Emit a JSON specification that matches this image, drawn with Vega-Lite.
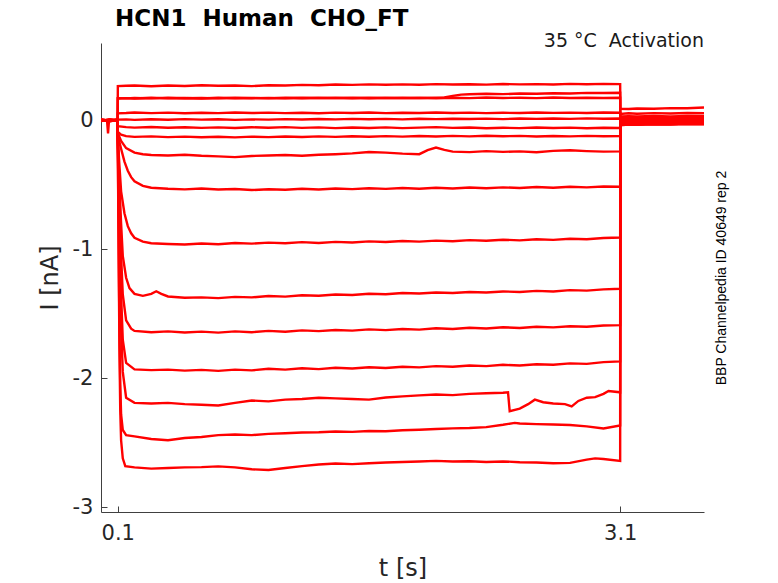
{
  "$schema": "https://vega.github.io/schema/vega-lite/v6.json",
  "width": 603,
  "height": 469,
  "autosize": {"type": "none"},
  "padding": {"left": 101, "top": 43, "right": 74, "bottom": 71},
  "background": "white",
  "title": {
    "text": "HCN1\u00a0 Human\u00a0 CHO_FT",
    "anchor": "start",
    "frame": "group",
    "dx": 14,
    "offset": -17,
    "baseline": "alphabetic",
    "font": "DejaVu Sans",
    "fontSize": 23,
    "fontWeight": "bold",
    "color": "#000000"
  },
  "config": {
    "view": {"stroke": null},
    "axis": {
      "zindex": 1,
      "ticks": false,
      "grid": true,
      "gridColor": "#404040",
      "gridWidth": 1,
      "gridOpacity": 1,
      "domainColor": "#404040",
      "domainWidth": 1,
      "labelColor": "#262626",
      "titleColor": "#262626",
      "labelFont": "DejaVu Sans",
      "titleFont": "DejaVu Sans",
      "labelFontSize": 21,
      "titleFontSize": 24,
      "titleFontWeight": "normal"
    }
  },
  "layer": [
    {
      "data": {
        "values": [
          {"k":1,"t":0,"i":0.004},{"k":1,"t":0.05,"i":-0.006},{"k":1,"t":0.0995,"i":0.003},{"k":1,"t":0.1005,"i":0.266},{"k":1,"t":0.15,"i":0.268},{"k":1,"t":0.2,"i":0.271},{"k":1,"t":0.3,"i":0.265},{"k":1,"t":0.4,"i":0.27},{"k":1,"t":0.5,"i":0.267},{"k":1,"t":0.6,"i":0.272},{"k":1,"t":0.7,"i":0.268},{"k":1,"t":0.8,"i":0.271},{"k":1,"t":0.9,"i":0.266},{"k":1,"t":1.0,"i":0.272},{"k":1,"t":1.1,"i":0.27},{"k":1,"t":1.2,"i":0.275},{"k":1,"t":1.3,"i":0.273},{"k":1,"t":1.4,"i":0.278},{"k":1,"t":1.5,"i":0.275},{"k":1,"t":1.6,"i":0.279},{"k":1,"t":1.7,"i":0.276},{"k":1,"t":1.8,"i":0.279},{"k":1,"t":1.9,"i":0.276},{"k":1,"t":2.0,"i":0.281},{"k":1,"t":2.1,"i":0.278},{"k":1,"t":2.2,"i":0.28},{"k":1,"t":2.3,"i":0.277},{"k":1,"t":2.4,"i":0.282},{"k":1,"t":2.5,"i":0.279},{"k":1,"t":2.6,"i":0.281},{"k":1,"t":2.7,"i":0.278},{"k":1,"t":2.8,"i":0.283},{"k":1,"t":2.9,"i":0.28},{"k":1,"t":3.0,"i":0.283},{"k":1,"t":3.0995,"i":0.281},{"k":1,"t":3.1005,"i":0.09},{"k":1,"t":3.15,"i":0.088},{"k":1,"t":3.2,"i":0.092},{"k":1,"t":3.3,"i":0.09},{"k":1,"t":3.4,"i":0.095},{"k":1,"t":3.5,"i":0.094},{"k":1,"t":3.6,"i":0.1},

          {"k":2,"t":0,"i":-0.003},{"k":2,"t":0.05,"i":0.005},{"k":2,"t":0.0995,"i":-0.002},{"k":2,"t":0.1005,"i":0.17},{"k":2,"t":0.15,"i":0.173},{"k":2,"t":0.2,"i":0.17},{"k":2,"t":0.3,"i":0.175},{"k":2,"t":0.4,"i":0.171},{"k":2,"t":0.5,"i":0.174},{"k":2,"t":0.6,"i":0.17},{"k":2,"t":0.7,"i":0.175},{"k":2,"t":0.8,"i":0.172},{"k":2,"t":0.9,"i":0.174},{"k":2,"t":1.0,"i":0.171},{"k":2,"t":1.1,"i":0.175},{"k":2,"t":1.2,"i":0.172},{"k":2,"t":1.3,"i":0.176},{"k":2,"t":1.4,"i":0.173},{"k":2,"t":1.5,"i":0.175},{"k":2,"t":1.6,"i":0.172},{"k":2,"t":1.7,"i":0.176},{"k":2,"t":1.8,"i":0.173},{"k":2,"t":1.9,"i":0.175},{"k":2,"t":2.0,"i":0.172},{"k":2,"t":2.1,"i":0.176},{"k":2,"t":2.2,"i":0.173},{"k":2,"t":2.3,"i":0.177},{"k":2,"t":2.4,"i":0.174},{"k":2,"t":2.5,"i":0.176},{"k":2,"t":2.6,"i":0.173},{"k":2,"t":2.7,"i":0.177},{"k":2,"t":2.8,"i":0.174},{"k":2,"t":2.9,"i":0.176},{"k":2,"t":3.0,"i":0.174},{"k":2,"t":3.0995,"i":0.176},{"k":2,"t":3.1005,"i":0.05},{"k":2,"t":3.15,"i":0.055},{"k":2,"t":3.2,"i":0.052},{"k":2,"t":3.3,"i":0.056},{"k":2,"t":3.4,"i":0.053},{"k":2,"t":3.5,"i":0.057},{"k":2,"t":3.6,"i":0.055},

          {"k":3,"t":0,"i":0.002},{"k":3,"t":0.05,"i":-0.004},{"k":3,"t":0.0995,"i":0.006},{"k":3,"t":0.1005,"i":0.172},{"k":3,"t":0.15,"i":0.171},{"k":3,"t":0.2,"i":0.174},{"k":3,"t":0.3,"i":0.171},{"k":3,"t":0.4,"i":0.175},{"k":3,"t":0.5,"i":0.172},{"k":3,"t":0.6,"i":0.174},{"k":3,"t":0.7,"i":0.171},{"k":3,"t":0.8,"i":0.175},{"k":3,"t":0.9,"i":0.172},{"k":3,"t":1.0,"i":0.174},{"k":3,"t":1.1,"i":0.172},{"k":3,"t":1.2,"i":0.176},{"k":3,"t":1.3,"i":0.173},{"k":3,"t":1.4,"i":0.175},{"k":3,"t":1.5,"i":0.172},{"k":3,"t":1.6,"i":0.176},{"k":3,"t":1.7,"i":0.173},{"k":3,"t":1.8,"i":0.175},{"k":3,"t":1.9,"i":0.173},{"k":3,"t":2.0,"i":0.176},{"k":3,"t":2.05,"i":0.178},{"k":3,"t":2.1,"i":0.19},{"k":3,"t":2.15,"i":0.2},{"k":3,"t":2.2,"i":0.203},{"k":3,"t":2.3,"i":0.206},{"k":3,"t":2.4,"i":0.204},{"k":3,"t":2.5,"i":0.208},{"k":3,"t":2.6,"i":0.207},{"k":3,"t":2.7,"i":0.211},{"k":3,"t":2.8,"i":0.209},{"k":3,"t":2.9,"i":0.213},{"k":3,"t":3.0,"i":0.212},{"k":3,"t":3.0995,"i":0.214},{"k":3,"t":3.1005,"i":0.03},{"k":3,"t":3.15,"i":0.033},{"k":3,"t":3.2,"i":0.03},{"k":3,"t":3.3,"i":0.034},{"k":3,"t":3.4,"i":0.031},{"k":3,"t":3.5,"i":0.035},{"k":3,"t":3.6,"i":0.033},

          {"k":4,"t":0,"i":0.008},{"k":4,"t":0.05,"i":0.0},{"k":4,"t":0.0995,"i":-0.005},{"k":4,"t":0.1005,"i":0.055},{"k":4,"t":0.15,"i":0.057},{"k":4,"t":0.2,"i":0.061},{"k":4,"t":0.3,"i":0.056},{"k":4,"t":0.4,"i":0.06},{"k":4,"t":0.5,"i":0.055},{"k":4,"t":0.6,"i":0.059},{"k":4,"t":0.7,"i":0.056},{"k":4,"t":0.8,"i":0.061},{"k":4,"t":0.9,"i":0.057},{"k":4,"t":1.0,"i":0.06},{"k":4,"t":1.1,"i":0.056},{"k":4,"t":1.2,"i":0.059},{"k":4,"t":1.3,"i":0.055},{"k":4,"t":1.4,"i":0.06},{"k":4,"t":1.5,"i":0.057},{"k":4,"t":1.6,"i":0.061},{"k":4,"t":1.7,"i":0.056},{"k":4,"t":1.8,"i":0.059},{"k":4,"t":1.9,"i":0.057},{"k":4,"t":2.0,"i":0.061},{"k":4,"t":2.1,"i":0.057},{"k":4,"t":2.2,"i":0.06},{"k":4,"t":2.3,"i":0.056},{"k":4,"t":2.4,"i":0.059},{"k":4,"t":2.5,"i":0.057},{"k":4,"t":2.6,"i":0.061},{"k":4,"t":2.7,"i":0.058},{"k":4,"t":2.8,"i":0.06},{"k":4,"t":2.9,"i":0.057},{"k":4,"t":3.0,"i":0.061},{"k":4,"t":3.0995,"i":0.059},{"k":4,"t":3.1005,"i":0.02},{"k":4,"t":3.15,"i":0.022},{"k":4,"t":3.2,"i":0.018},{"k":4,"t":3.3,"i":0.023},{"k":4,"t":3.4,"i":0.02},{"k":4,"t":3.5,"i":0.024},{"k":4,"t":3.6,"i":0.021},

          {"k":5,"t":0,"i":-0.006},{"k":5,"t":0.05,"i":0.007},{"k":5,"t":0.0995,"i":0.001},{"k":5,"t":0.1005,"i":0.006},{"k":5,"t":0.15,"i":0.008},{"k":5,"t":0.2,"i":0.004},{"k":5,"t":0.3,"i":0.009},{"k":5,"t":0.4,"i":0.005},{"k":5,"t":0.5,"i":0.01},{"k":5,"t":0.6,"i":0.006},{"k":5,"t":0.7,"i":0.009},{"k":5,"t":0.8,"i":0.004},{"k":5,"t":0.9,"i":0.008},{"k":5,"t":1.0,"i":0.006},{"k":5,"t":1.1,"i":0.01},{"k":5,"t":1.2,"i":0.007},{"k":5,"t":1.3,"i":0.011},{"k":5,"t":1.4,"i":0.008},{"k":5,"t":1.5,"i":0.012},{"k":5,"t":1.6,"i":0.009},{"k":5,"t":1.7,"i":0.012},{"k":5,"t":1.8,"i":0.008},{"k":5,"t":1.9,"i":0.013},{"k":5,"t":2.0,"i":0.01},{"k":5,"t":2.1,"i":0.013},{"k":5,"t":2.2,"i":0.011},{"k":5,"t":2.3,"i":0.014},{"k":5,"t":2.4,"i":0.01},{"k":5,"t":2.5,"i":0.015},{"k":5,"t":2.6,"i":0.012},{"k":5,"t":2.7,"i":0.015},{"k":5,"t":2.8,"i":0.012},{"k":5,"t":2.9,"i":0.016},{"k":5,"t":3.0,"i":0.013},{"k":5,"t":3.0995,"i":0.015},{"k":5,"t":3.1005,"i":0.01},{"k":5,"t":3.15,"i":0.012},{"k":5,"t":3.2,"i":0.008},{"k":5,"t":3.3,"i":0.013},{"k":5,"t":3.4,"i":0.009},{"k":5,"t":3.5,"i":0.014},{"k":5,"t":3.6,"i":0.011},

          {"k":6,"t":0,"i":0.005},{"k":6,"t":0.05,"i":-0.003},{"k":6,"t":0.0995,"i":0.004},{"k":6,"t":0.1005,"i":-0.045},{"k":6,"t":0.15,"i":-0.052},{"k":6,"t":0.2,"i":-0.056},{"k":6,"t":0.3,"i":-0.051},{"k":6,"t":0.4,"i":-0.057},{"k":6,"t":0.5,"i":-0.053},{"k":6,"t":0.6,"i":-0.058},{"k":6,"t":0.7,"i":-0.054},{"k":6,"t":0.8,"i":-0.059},{"k":6,"t":0.9,"i":-0.053},{"k":6,"t":1.0,"i":-0.057},{"k":6,"t":1.1,"i":-0.052},{"k":6,"t":1.2,"i":-0.058},{"k":6,"t":1.3,"i":-0.054},{"k":6,"t":1.4,"i":-0.06},{"k":6,"t":1.5,"i":-0.055},{"k":6,"t":1.6,"i":-0.059},{"k":6,"t":1.7,"i":-0.054},{"k":6,"t":1.8,"i":-0.06},{"k":6,"t":1.9,"i":-0.056},{"k":6,"t":2.0,"i":-0.052},{"k":6,"t":2.1,"i":-0.058},{"k":6,"t":2.2,"i":-0.055},{"k":6,"t":2.3,"i":-0.061},{"k":6,"t":2.4,"i":-0.057},{"k":6,"t":2.5,"i":-0.06},{"k":6,"t":2.6,"i":-0.055},{"k":6,"t":2.7,"i":-0.059},{"k":6,"t":2.8,"i":-0.056},{"k":6,"t":2.9,"i":-0.061},{"k":6,"t":3.0,"i":-0.057},{"k":6,"t":3.0995,"i":-0.059},{"k":6,"t":3.1005,"i":0.003},{"k":6,"t":3.15,"i":0.005},{"k":6,"t":3.2,"i":0.001},{"k":6,"t":3.3,"i":0.006},{"k":6,"t":3.4,"i":0.002},{"k":6,"t":3.5,"i":0.007},{"k":6,"t":3.6,"i":0.004},

          {"k":7,"t":0,"i":-0.004},{"k":7,"t":0.05,"i":0.006},{"k":7,"t":0.0995,"i":-0.003},{"k":7,"t":0.1005,"i":-0.09},{"k":7,"t":0.12,"i":-0.11},{"k":7,"t":0.15,"i":-0.122},{"k":7,"t":0.2,"i":-0.128},{"k":7,"t":0.3,"i":-0.124},{"k":7,"t":0.4,"i":-0.13},{"k":7,"t":0.5,"i":-0.126},{"k":7,"t":0.6,"i":-0.131},{"k":7,"t":0.7,"i":-0.127},{"k":7,"t":0.8,"i":-0.132},{"k":7,"t":0.9,"i":-0.126},{"k":7,"t":1.0,"i":-0.13},{"k":7,"t":1.1,"i":-0.125},{"k":7,"t":1.2,"i":-0.129},{"k":7,"t":1.3,"i":-0.124},{"k":7,"t":1.4,"i":-0.128},{"k":7,"t":1.5,"i":-0.123},{"k":7,"t":1.6,"i":-0.127},{"k":7,"t":1.7,"i":-0.122},{"k":7,"t":1.8,"i":-0.126},{"k":7,"t":1.9,"i":-0.121},{"k":7,"t":2.0,"i":-0.125},{"k":7,"t":2.1,"i":-0.12},{"k":7,"t":2.2,"i":-0.124},{"k":7,"t":2.3,"i":-0.119},{"k":7,"t":2.4,"i":-0.123},{"k":7,"t":2.5,"i":-0.12},{"k":7,"t":2.6,"i":-0.125},{"k":7,"t":2.7,"i":-0.121},{"k":7,"t":2.8,"i":-0.124},{"k":7,"t":2.9,"i":-0.12},{"k":7,"t":3.0,"i":-0.123},{"k":7,"t":3.0995,"i":-0.121},{"k":7,"t":3.1005,"i":-0.005},{"k":7,"t":3.15,"i":-0.002},{"k":7,"t":3.2,"i":-0.006},{"k":7,"t":3.3,"i":-0.001},{"k":7,"t":3.4,"i":-0.005},{"k":7,"t":3.5,"i":0.0},{"k":7,"t":3.6,"i":-0.003},

          {"k":8,"t":0,"i":0.003},{"k":8,"t":0.05,"i":-0.005},{"k":8,"t":0.0995,"i":0.002},{"k":8,"t":0.1005,"i":-0.1},{"k":8,"t":0.12,"i":-0.16},{"k":8,"t":0.15,"i":-0.215},{"k":8,"t":0.2,"i":-0.25},{"k":8,"t":0.25,"i":-0.262},{"k":8,"t":0.3,"i":-0.268},{"k":8,"t":0.4,"i":-0.272},{"k":8,"t":0.5,"i":-0.266},{"k":8,"t":0.6,"i":-0.274},{"k":8,"t":0.7,"i":-0.279},{"k":8,"t":0.8,"i":-0.285},{"k":8,"t":0.9,"i":-0.276},{"k":8,"t":1.0,"i":-0.272},{"k":8,"t":1.1,"i":-0.268},{"k":8,"t":1.2,"i":-0.274},{"k":8,"t":1.3,"i":-0.266},{"k":8,"t":1.4,"i":-0.262},{"k":8,"t":1.5,"i":-0.256},{"k":8,"t":1.6,"i":-0.245},{"k":8,"t":1.7,"i":-0.25},{"k":8,"t":1.8,"i":-0.258},{"k":8,"t":1.9,"i":-0.262},{"k":8,"t":1.95,"i":-0.23},{"k":8,"t":2.0,"i":-0.21},{"k":8,"t":2.05,"i":-0.228},{"k":8,"t":2.1,"i":-0.242},{"k":8,"t":2.2,"i":-0.246},{"k":8,"t":2.3,"i":-0.238},{"k":8,"t":2.4,"i":-0.244},{"k":8,"t":2.5,"i":-0.24},{"k":8,"t":2.6,"i":-0.247},{"k":8,"t":2.7,"i":-0.236},{"k":8,"t":2.8,"i":-0.232},{"k":8,"t":2.9,"i":-0.238},{"k":8,"t":3.0,"i":-0.242},{"k":8,"t":3.0995,"i":-0.24},{"k":8,"t":3.1005,"i":-0.01},{"k":8,"t":3.15,"i":-0.008},{"k":8,"t":3.2,"i":-0.012},{"k":8,"t":3.3,"i":-0.006},{"k":8,"t":3.4,"i":-0.01},{"k":8,"t":3.5,"i":-0.005},{"k":8,"t":3.6,"i":-0.008},

          {"k":9,"t":0,"i":-0.002},{"k":9,"t":0.036,"i":0.0},{"k":9,"t":0.042,"i":-0.1},{"k":9,"t":0.048,"i":0.002},{"k":9,"t":0.0995,"i":0.004},{"k":9,"t":0.1005,"i":-0.12},{"k":9,"t":0.12,"i":-0.22},{"k":9,"t":0.14,"i":-0.32},{"k":9,"t":0.16,"i":-0.39},{"k":9,"t":0.18,"i":-0.44},{"k":9,"t":0.2,"i":-0.472},{"k":9,"t":0.25,"i":-0.508},{"k":9,"t":0.3,"i":-0.522},{"k":9,"t":0.4,"i":-0.53},{"k":9,"t":0.5,"i":-0.535},{"k":9,"t":0.6,"i":-0.528},{"k":9,"t":0.7,"i":-0.536},{"k":9,"t":0.8,"i":-0.532},{"k":9,"t":0.9,"i":-0.54},{"k":9,"t":1.0,"i":-0.534},{"k":9,"t":1.1,"i":-0.538},{"k":9,"t":1.2,"i":-0.53},{"k":9,"t":1.3,"i":-0.536},{"k":9,"t":1.4,"i":-0.528},{"k":9,"t":1.5,"i":-0.533},{"k":9,"t":1.6,"i":-0.526},{"k":9,"t":1.7,"i":-0.531},{"k":9,"t":1.8,"i":-0.524},{"k":9,"t":1.9,"i":-0.53},{"k":9,"t":2.0,"i":-0.522},{"k":9,"t":2.1,"i":-0.528},{"k":9,"t":2.2,"i":-0.52},{"k":9,"t":2.3,"i":-0.526},{"k":9,"t":2.4,"i":-0.519},{"k":9,"t":2.5,"i":-0.524},{"k":9,"t":2.6,"i":-0.516},{"k":9,"t":2.7,"i":-0.522},{"k":9,"t":2.8,"i":-0.514},{"k":9,"t":2.9,"i":-0.519},{"k":9,"t":3.0,"i":-0.512},{"k":9,"t":3.0995,"i":-0.515},{"k":9,"t":3.1005,"i":-0.015},{"k":9,"t":3.15,"i":-0.012},{"k":9,"t":3.2,"i":-0.016},{"k":9,"t":3.3,"i":-0.01},{"k":9,"t":3.4,"i":-0.014},{"k":9,"t":3.5,"i":-0.009},{"k":9,"t":3.6,"i":-0.012},

          {"k":10,"t":0,"i":0.006},{"k":10,"t":0.05,"i":-0.002},{"k":10,"t":0.0995,"i":0.005},{"k":10,"t":0.1005,"i":-0.14},{"k":10,"t":0.11,"i":-0.35},{"k":10,"t":0.12,"i":-0.55},{"k":10,"t":0.14,"i":-0.72},{"k":10,"t":0.16,"i":-0.82},{"k":10,"t":0.18,"i":-0.875},{"k":10,"t":0.2,"i":-0.91},{"k":10,"t":0.25,"i":-0.94},{"k":10,"t":0.3,"i":-0.952},{"k":10,"t":0.4,"i":-0.958},{"k":10,"t":0.5,"i":-0.962},{"k":10,"t":0.6,"i":-0.955},{"k":10,"t":0.7,"i":-0.96},{"k":10,"t":0.8,"i":-0.95},{"k":10,"t":0.9,"i":-0.955},{"k":10,"t":1.0,"i":-0.948},{"k":10,"t":1.1,"i":-0.952},{"k":10,"t":1.2,"i":-0.944},{"k":10,"t":1.3,"i":-0.95},{"k":10,"t":1.4,"i":-0.942},{"k":10,"t":1.5,"i":-0.947},{"k":10,"t":1.6,"i":-0.938},{"k":10,"t":1.7,"i":-0.943},{"k":10,"t":1.8,"i":-0.935},{"k":10,"t":1.9,"i":-0.94},{"k":10,"t":2.0,"i":-0.932},{"k":10,"t":2.1,"i":-0.937},{"k":10,"t":2.2,"i":-0.928},{"k":10,"t":2.3,"i":-0.933},{"k":10,"t":2.4,"i":-0.925},{"k":10,"t":2.5,"i":-0.93},{"k":10,"t":2.6,"i":-0.921},{"k":10,"t":2.7,"i":-0.926},{"k":10,"t":2.8,"i":-0.918},{"k":10,"t":2.9,"i":-0.922},{"k":10,"t":3.0,"i":-0.912},{"k":10,"t":3.0995,"i":-0.908},{"k":10,"t":3.1005,"i":-0.02},{"k":10,"t":3.15,"i":-0.016},{"k":10,"t":3.2,"i":-0.02},{"k":10,"t":3.3,"i":-0.014},{"k":10,"t":3.4,"i":-0.018},{"k":10,"t":3.5,"i":-0.012},{"k":10,"t":3.6,"i":-0.015},

          {"k":11,"t":0,"i":-0.005},{"k":11,"t":0.05,"i":0.004},{"k":11,"t":0.0995,"i":-0.001},{"k":11,"t":0.1005,"i":-0.15},{"k":11,"t":0.11,"i":-0.5},{"k":11,"t":0.12,"i":-0.8},{"k":11,"t":0.13,"i":-1.05},{"k":11,"t":0.15,"i":-1.22},{"k":11,"t":0.17,"i":-1.3},{"k":11,"t":0.2,"i":-1.345},{"k":11,"t":0.25,"i":-1.36},{"k":11,"t":0.3,"i":-1.345},{"k":11,"t":0.33,"i":-1.325},{"k":11,"t":0.36,"i":-1.345},{"k":11,"t":0.4,"i":-1.365},{"k":11,"t":0.5,"i":-1.375},{"k":11,"t":0.6,"i":-1.372},{"k":11,"t":0.7,"i":-1.378},{"k":11,"t":0.8,"i":-1.368},{"k":11,"t":0.9,"i":-1.372},{"k":11,"t":1.0,"i":-1.362},{"k":11,"t":1.1,"i":-1.366},{"k":11,"t":1.2,"i":-1.356},{"k":11,"t":1.3,"i":-1.36},{"k":11,"t":1.4,"i":-1.35},{"k":11,"t":1.5,"i":-1.354},{"k":11,"t":1.6,"i":-1.344},{"k":11,"t":1.7,"i":-1.348},{"k":11,"t":1.8,"i":-1.338},{"k":11,"t":1.9,"i":-1.342},{"k":11,"t":2.0,"i":-1.334},{"k":11,"t":2.1,"i":-1.338},{"k":11,"t":2.2,"i":-1.33},{"k":11,"t":2.3,"i":-1.334},{"k":11,"t":2.4,"i":-1.326},{"k":11,"t":2.5,"i":-1.33},{"k":11,"t":2.6,"i":-1.322},{"k":11,"t":2.7,"i":-1.326},{"k":11,"t":2.8,"i":-1.316},{"k":11,"t":2.9,"i":-1.32},{"k":11,"t":3.0,"i":-1.31},{"k":11,"t":3.0995,"i":-1.305},{"k":11,"t":3.1005,"i":-0.025},{"k":11,"t":3.15,"i":-0.02},{"k":11,"t":3.2,"i":-0.024},{"k":11,"t":3.3,"i":-0.018},{"k":11,"t":3.4,"i":-0.022},{"k":11,"t":3.5,"i":-0.016},{"k":11,"t":3.6,"i":-0.019},

          {"k":12,"t":0,"i":0.002},{"k":12,"t":0.05,"i":-0.006},{"k":12,"t":0.0995,"i":0.003},{"k":12,"t":0.1005,"i":-0.16},{"k":12,"t":0.11,"i":-0.65},{"k":12,"t":0.12,"i":-1.05},{"k":12,"t":0.13,"i":-1.35},{"k":12,"t":0.15,"i":-1.55},{"k":12,"t":0.18,"i":-1.615},{"k":12,"t":0.2,"i":-1.632},{"k":12,"t":0.3,"i":-1.642},{"k":12,"t":0.4,"i":-1.636},{"k":12,"t":0.5,"i":-1.644},{"k":12,"t":0.6,"i":-1.638},{"k":12,"t":0.7,"i":-1.645},{"k":12,"t":0.8,"i":-1.636},{"k":12,"t":0.9,"i":-1.642},{"k":12,"t":1.0,"i":-1.632},{"k":12,"t":1.1,"i":-1.638},{"k":12,"t":1.2,"i":-1.628},{"k":12,"t":1.3,"i":-1.634},{"k":12,"t":1.4,"i":-1.625},{"k":12,"t":1.5,"i":-1.63},{"k":12,"t":1.6,"i":-1.62},{"k":12,"t":1.7,"i":-1.626},{"k":12,"t":1.8,"i":-1.617},{"k":12,"t":1.9,"i":-1.622},{"k":12,"t":2.0,"i":-1.612},{"k":12,"t":2.1,"i":-1.617},{"k":12,"t":2.2,"i":-1.608},{"k":12,"t":2.3,"i":-1.613},{"k":12,"t":2.4,"i":-1.604},{"k":12,"t":2.5,"i":-1.609},{"k":12,"t":2.6,"i":-1.6},{"k":12,"t":2.7,"i":-1.605},{"k":12,"t":2.8,"i":-1.596},{"k":12,"t":2.9,"i":-1.6},{"k":12,"t":3.0,"i":-1.59},{"k":12,"t":3.0995,"i":-1.587},{"k":12,"t":3.1005,"i":-0.028},{"k":12,"t":3.15,"i":-0.024},{"k":12,"t":3.2,"i":-0.028},{"k":12,"t":3.3,"i":-0.022},{"k":12,"t":3.4,"i":-0.026},{"k":12,"t":3.5,"i":-0.02},{"k":12,"t":3.6,"i":-0.023},

          {"k":13,"t":0,"i":-0.003},{"k":13,"t":0.05,"i":0.005},{"k":13,"t":0.0995,"i":-0.004},{"k":13,"t":0.1005,"i":-0.17},{"k":13,"t":0.105,"i":-0.5},{"k":13,"t":0.11,"i":-0.85},{"k":13,"t":0.12,"i":-1.35},{"k":13,"t":0.13,"i":-1.7},{"k":13,"t":0.15,"i":-1.88},{"k":13,"t":0.2,"i":-1.93},{"k":13,"t":0.3,"i":-1.936},{"k":13,"t":0.4,"i":-1.932},{"k":13,"t":0.5,"i":-1.94},{"k":13,"t":0.6,"i":-1.934},{"k":13,"t":0.7,"i":-1.942},{"k":13,"t":0.8,"i":-1.932},{"k":13,"t":0.9,"i":-1.938},{"k":13,"t":1.0,"i":-1.926},{"k":13,"t":1.1,"i":-1.932},{"k":13,"t":1.2,"i":-1.922},{"k":13,"t":1.3,"i":-1.928},{"k":13,"t":1.4,"i":-1.918},{"k":13,"t":1.5,"i":-1.924},{"k":13,"t":1.6,"i":-1.914},{"k":13,"t":1.7,"i":-1.92},{"k":13,"t":1.8,"i":-1.91},{"k":13,"t":1.9,"i":-1.915},{"k":13,"t":2.0,"i":-1.905},{"k":13,"t":2.1,"i":-1.91},{"k":13,"t":2.2,"i":-1.9},{"k":13,"t":2.3,"i":-1.905},{"k":13,"t":2.4,"i":-1.895},{"k":13,"t":2.5,"i":-1.9},{"k":13,"t":2.6,"i":-1.89},{"k":13,"t":2.7,"i":-1.894},{"k":13,"t":2.8,"i":-1.884},{"k":13,"t":2.9,"i":-1.888},{"k":13,"t":3.0,"i":-1.874},{"k":13,"t":3.0995,"i":-1.868},{"k":13,"t":3.1005,"i":-0.03},{"k":13,"t":3.15,"i":-0.026},{"k":13,"t":3.2,"i":-0.03},{"k":13,"t":3.3,"i":-0.024},{"k":13,"t":3.4,"i":-0.027},{"k":13,"t":3.5,"i":-0.022},{"k":13,"t":3.6,"i":-0.025},

          {"k":14,"t":0,"i":0.005},{"k":14,"t":0.05,"i":-0.002},{"k":14,"t":0.0995,"i":0.002},{"k":14,"t":0.1005,"i":-0.18},{"k":14,"t":0.105,"i":-0.6},{"k":14,"t":0.11,"i":-1.0},{"k":14,"t":0.12,"i":-1.6},{"k":14,"t":0.13,"i":-1.95},{"k":14,"t":0.15,"i":-2.15},{"k":14,"t":0.2,"i":-2.19},{"k":14,"t":0.3,"i":-2.195},{"k":14,"t":0.4,"i":-2.19},{"k":14,"t":0.5,"i":-2.2},{"k":14,"t":0.6,"i":-2.205},{"k":14,"t":0.7,"i":-2.21},{"k":14,"t":0.8,"i":-2.19},{"k":14,"t":0.9,"i":-2.172},{"k":14,"t":1.0,"i":-2.178},{"k":14,"t":1.1,"i":-2.165},{"k":14,"t":1.2,"i":-2.16},{"k":14,"t":1.3,"i":-2.15},{"k":14,"t":1.4,"i":-2.155},{"k":14,"t":1.5,"i":-2.16},{"k":14,"t":1.6,"i":-2.165},{"k":14,"t":1.7,"i":-2.148},{"k":14,"t":1.8,"i":-2.14},{"k":14,"t":1.9,"i":-2.132},{"k":14,"t":2.0,"i":-2.125},{"k":14,"t":2.1,"i":-2.13},{"k":14,"t":2.2,"i":-2.12},{"k":14,"t":2.3,"i":-2.115},{"k":14,"t":2.4,"i":-2.112},{"k":14,"t":2.43,"i":-2.108},{"k":14,"t":2.44,"i":-2.255},{"k":14,"t":2.5,"i":-2.235},{"k":14,"t":2.55,"i":-2.2},{"k":14,"t":2.59,"i":-2.165},{"k":14,"t":2.64,"i":-2.185},{"k":14,"t":2.7,"i":-2.195},{"k":14,"t":2.77,"i":-2.2},{"k":14,"t":2.81,"i":-2.218},{"k":14,"t":2.85,"i":-2.175},{"k":14,"t":2.9,"i":-2.15},{"k":14,"t":2.95,"i":-2.145},{"k":14,"t":3.0,"i":-2.12},{"k":14,"t":3.03,"i":-2.098},{"k":14,"t":3.0995,"i":-2.108},{"k":14,"t":3.1005,"i":-0.032},{"k":14,"t":3.15,"i":-0.028},{"k":14,"t":3.2,"i":-0.031},{"k":14,"t":3.3,"i":-0.026},{"k":14,"t":3.4,"i":-0.029},{"k":14,"t":3.5,"i":-0.024},{"k":14,"t":3.6,"i":-0.026},

          {"k":15,"t":0,"i":-0.004},{"k":15,"t":0.05,"i":0.003},{"k":15,"t":0.0995,"i":0.006},{"k":15,"t":0.1005,"i":-0.2},{"k":15,"t":0.105,"i":-0.9},{"k":15,"t":0.11,"i":-1.6},{"k":15,"t":0.115,"i":-2.05},{"k":15,"t":0.12,"i":-2.28},{"k":15,"t":0.13,"i":-2.4},{"k":15,"t":0.15,"i":-2.44},{"k":15,"t":0.2,"i":-2.45},{"k":15,"t":0.3,"i":-2.47},{"k":15,"t":0.4,"i":-2.48},{"k":15,"t":0.5,"i":-2.462},{"k":15,"t":0.6,"i":-2.455},{"k":15,"t":0.7,"i":-2.44},{"k":15,"t":0.8,"i":-2.435},{"k":15,"t":0.9,"i":-2.44},{"k":15,"t":1.0,"i":-2.43},{"k":15,"t":1.1,"i":-2.425},{"k":15,"t":1.2,"i":-2.42},{"k":15,"t":1.3,"i":-2.418},{"k":15,"t":1.4,"i":-2.412},{"k":15,"t":1.5,"i":-2.415},{"k":15,"t":1.6,"i":-2.408},{"k":15,"t":1.7,"i":-2.41},{"k":15,"t":1.8,"i":-2.402},{"k":15,"t":1.9,"i":-2.398},{"k":15,"t":2.0,"i":-2.392},{"k":15,"t":2.1,"i":-2.388},{"k":15,"t":2.2,"i":-2.385},{"k":15,"t":2.3,"i":-2.378},{"k":15,"t":2.4,"i":-2.36},{"k":15,"t":2.47,"i":-2.345},{"k":15,"t":2.5,"i":-2.35},{"k":15,"t":2.6,"i":-2.355},{"k":15,"t":2.7,"i":-2.358},{"k":15,"t":2.8,"i":-2.362},{"k":15,"t":2.9,"i":-2.372},{"k":15,"t":3.0,"i":-2.388},{"k":15,"t":3.0995,"i":-2.365},{"k":15,"t":3.1005,"i":-0.035},{"k":15,"t":3.15,"i":-0.03},{"k":15,"t":3.2,"i":-0.033},{"k":15,"t":3.3,"i":-0.028},{"k":15,"t":3.4,"i":-0.031},{"k":15,"t":3.5,"i":-0.026},{"k":15,"t":3.6,"i":-0.029},

          {"k":16,"t":0,"i":0.001},{"k":16,"t":0.05,"i":-0.004},{"k":16,"t":0.0995,"i":0.0},{"k":16,"t":0.1005,"i":-0.22},{"k":16,"t":0.105,"i":-1.0},{"k":16,"t":0.11,"i":-1.75},{"k":16,"t":0.115,"i":-2.25},{"k":16,"t":0.12,"i":-2.48},{"k":16,"t":0.13,"i":-2.62},{"k":16,"t":0.145,"i":-2.68},{"k":16,"t":0.2,"i":-2.69},{"k":16,"t":0.3,"i":-2.7},{"k":16,"t":0.4,"i":-2.695},{"k":16,"t":0.5,"i":-2.69},{"k":16,"t":0.6,"i":-2.688},{"k":16,"t":0.7,"i":-2.682},{"k":16,"t":0.8,"i":-2.69},{"k":16,"t":0.9,"i":-2.705},{"k":16,"t":1.0,"i":-2.71},{"k":16,"t":1.1,"i":-2.695},{"k":16,"t":1.2,"i":-2.68},{"k":16,"t":1.3,"i":-2.668},{"k":16,"t":1.4,"i":-2.66},{"k":16,"t":1.5,"i":-2.665},{"k":16,"t":1.6,"i":-2.658},{"k":16,"t":1.7,"i":-2.652},{"k":16,"t":1.8,"i":-2.648},{"k":16,"t":1.9,"i":-2.645},{"k":16,"t":2.0,"i":-2.64},{"k":16,"t":2.1,"i":-2.645},{"k":16,"t":2.2,"i":-2.642},{"k":16,"t":2.3,"i":-2.648},{"k":16,"t":2.4,"i":-2.644},{"k":16,"t":2.5,"i":-2.65},{"k":16,"t":2.6,"i":-2.652},{"k":16,"t":2.7,"i":-2.658},{"k":16,"t":2.8,"i":-2.655},{"k":16,"t":2.9,"i":-2.63},{"k":16,"t":2.95,"i":-2.62},{"k":16,"t":3.0,"i":-2.625},{"k":16,"t":3.0995,"i":-2.64},{"k":16,"t":3.1005,"i":-0.038},{"k":16,"t":3.15,"i":-0.032},{"k":16,"t":3.2,"i":-0.035},{"k":16,"t":3.3,"i":-0.03},{"k":16,"t":3.4,"i":-0.033},{"k":16,"t":3.5,"i":-0.028},{"k":16,"t":3.6,"i":-0.031}
        ]
      },
      "mark": {"type": "line", "color": "#ff0000", "strokeWidth": 2.4, "clip": true},
      "encoding": {
        "x": {
          "field": "t",
          "type": "quantitative",
          "scale": {"domain": [0, 3.6], "nice": false, "zero": false},
          "axis": {
            "orient": "bottom",
            "title": "t [s]",
            "values": [0.1, 3.1],
            "labelExpr": "'' + datum.value",
            "labelPadding": 10,
            "titlePadding": 13,
            "labelFlush": false,
            "grid": true,
            "gridDash": [0, 463, 6, 3000]
          }
        },
        "y": {
          "field": "i",
          "type": "quantitative",
          "scale": {"domain": [-3.036, 0.6], "nice": false, "zero": false},
          "axis": {
            "title": "I [nA]",
            "values": [-3, -2, -1, 0],
            "labelExpr": "'' + datum.value",
            "labelPadding": 8,
            "titlePadding": 10,
            "labelFlush": false,
            "grid": true,
            "gridDash": [6, 3000]
          }
        },
        "detail": {"field": "k", "type": "nominal"}
      }
    },
    {
      "data": {"values": [{"t": 3.6, "i": 0.6, "label": "35 °C\u00a0 Activation"}]},
      "mark": {
        "type": "text",
        "align": "right",
        "baseline": "alphabetic",
        "dy": 4,
        "font": "DejaVu Sans",
        "fontSize": 19,
        "color": "#1a1a1a"
      },
      "encoding": {
        "x": {"field": "t", "type": "quantitative"},
        "y": {
          "field": "i",
          "type": "quantitative",
          "axis": {
            "orient": "right",
            "title": "BBP Channelpedia ID 40649 rep 2",
            "titleFont": "Liberation Sans",
            "titleFontSize": 14,
            "titleColor": "#000000",
            "titleAngle": 270,
            "titlePadding": 24,
            "labels": false,
            "ticks": false,
            "domain": false,
            "grid": false
          }
        },
        "text": {"field": "label"}
      }
    }
  ],
  "resolve": {"axis": {"y": "independent"}}
}
